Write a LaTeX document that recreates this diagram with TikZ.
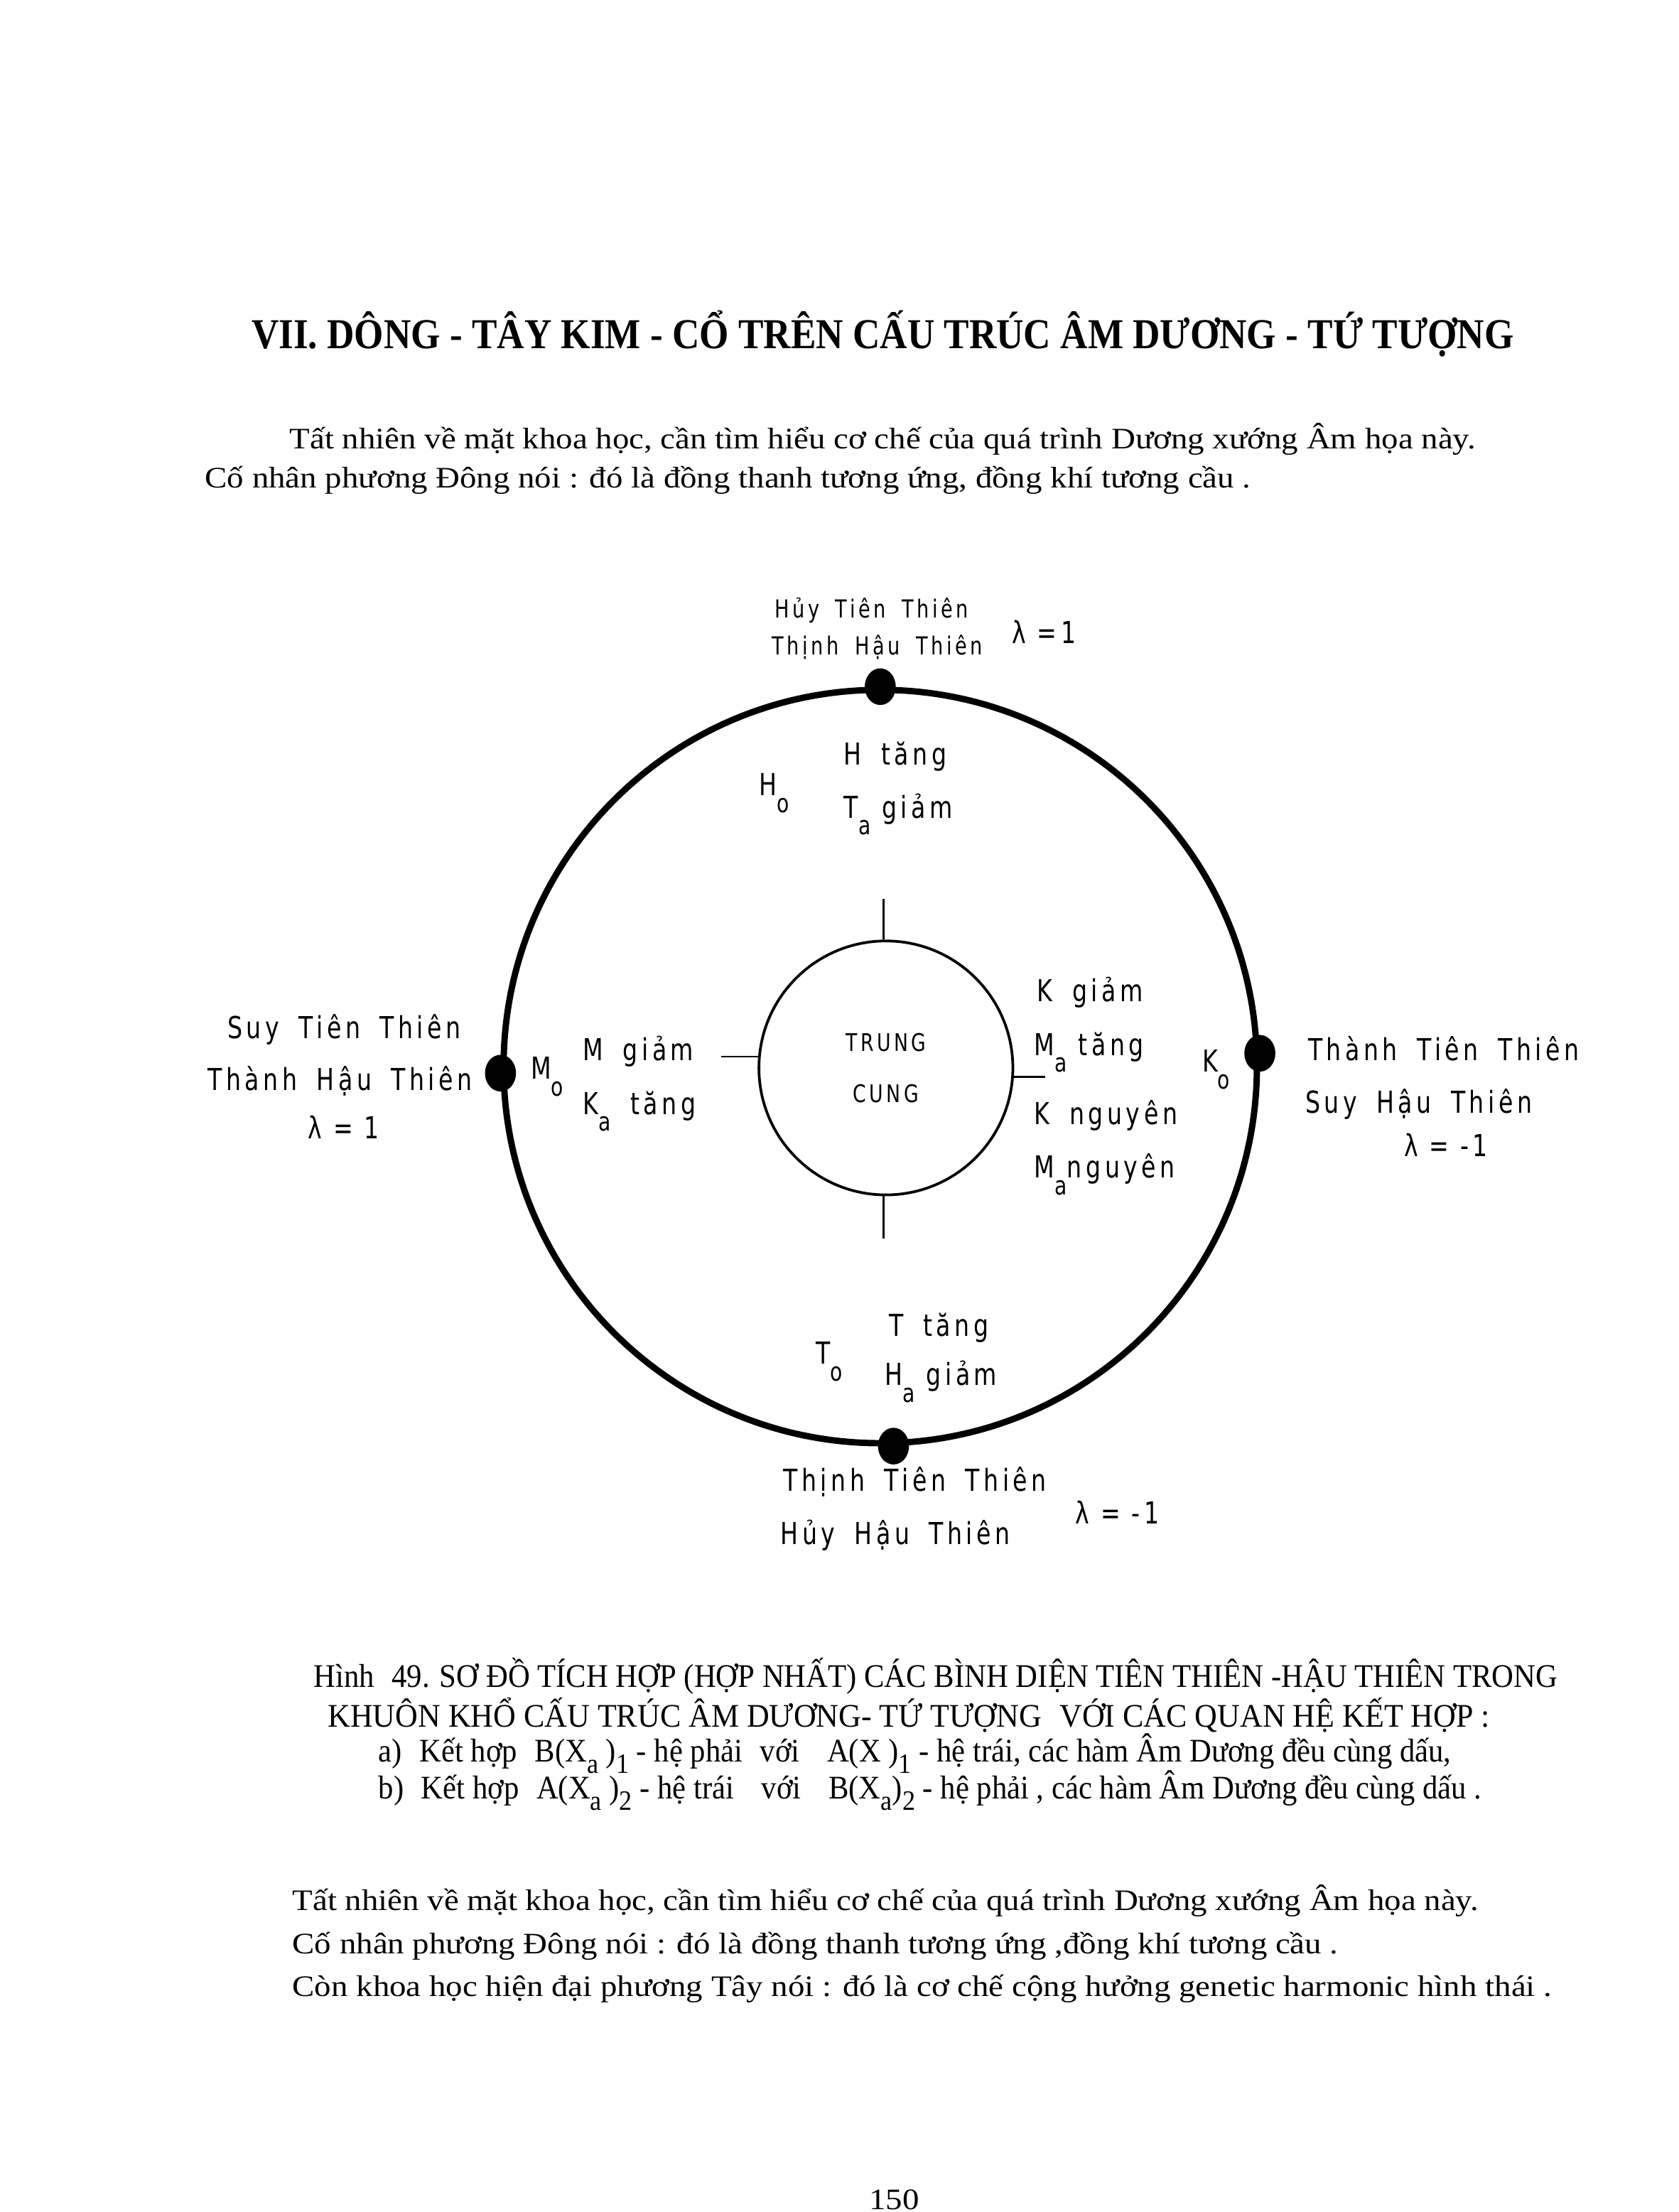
\documentclass[tikz,border=0pt]{standalone}
\usepackage{fontspec}
\setmainfont{Liberation Serif}
\newfontfamily\lblfont[FakeStretch=0.78,LetterSpace=13,WordSpace=1.7]{DejaVu Sans}
\newfontfamily\txtfont[FakeStretch=1.12]{Liberation Serif}
\newfontfamily\capfont[FakeStretch=0.92]{Liberation Serif}
\newfontfamily\headfont[FakeStretch=0.886]{Liberation Serif}
\usetikzlibrary{shapes.geometric}
\newcommand{\lsub}[1]{\raisebox{-0.55em}{\scalebox{0.85}{#1}}}
\newcommand{\csub}[1]{\raisebox{-0.35em}{\scalebox{0.85}{#1}}}
\newcommand{\gap}{\hspace{1.4mm}}
\newcommand{\sgap}{\hspace{1.6mm}}

\begin{document}
\begin{tikzpicture}[x=0.2mm, y=-0.2mm,
  lbl/.style={font=\lblfont\fontsize{12.2}{14}\selectfont, anchor=base west, inner sep=0pt},
  lbls/.style={lbl, font=\lblfont\fontsize{10}{12}\selectfont},
  txt/.style={font=\txtfont\fontsize{12}{14}\selectfont, anchor=base west, inner sep=0pt},
  captxt/.style={font=\capfont\fontsize{13.3}{15}\selectfont, anchor=base west, inner sep=0pt},
  dot/.style={ellipse, fill=black, minimum width=4.4mm, minimum height=5.2mm, inner sep=0pt},
  tick/.style={line width=0.25mm}]
\fill[white] (0,0) rectangle (1190,1568);
\useasboundingbox (0,0) rectangle (1190,1568);

% heading and opening lines
\node[anchor=base west, inner sep=0pt, font=\headfont\bfseries\fontsize{17.2}{20}\selectfont]
  (head) at (178,247) {VII. DÔNG - TÂY KIM - CỔ TRÊN CẤU TRÚC ÂM DƯƠNG - TỨ TƯỢNG};
\node[txt] (top1) at (205,318) {Tất nhiên về mặt khoa học, cần tìm hiểu cơ chế của quá trình Dương xướng Âm họa này.};
\node[txt] (top2) at (145,346) {Cố nhân phương Đông nói : đó là đồng thanh tương ứng, đồng khí tương cầu .};

% rings
\node[circle, draw, line width=0.9mm, minimum size=106.8mm, inner sep=0pt] (ring) at (624,756) {};
\node[circle, draw, line width=0.38mm, minimum size=36mm, inner sep=0pt, align=center,
  font=\lblfont\fontsize{9.8}{20.5}\selectfont] (tc) at (628,757) {TRUNG\\CUNG};
\draw[tick] (tc.91) -- ++(0,-29);
\draw[tick] (tc.269) -- ++(0,30);
\draw[tick] (tc.175) -- ++(-26,0);
\draw[tick] (tc.356) -- ++(22,0);

\node[dot] (pt) at (ring.90) {};
\node[dot] (pb) at (ring.272) {};
\node[dot] (pl) at (ring.181) {};
\node[dot] (pr) at (ring.2) {};

% top
\node[lbls] (t1) at (549,438) {Hủy Tiên Thiên};
\node[lbls] (t2) at (547,464) {Thịnh Hậu Thiên};
\node[lbl] (tl) at (717,456) {λ\sgap=1};
\node[lbl] (t3) at (598,542) {H tăng};
\node[lbl] (t4) at (598,580) {T\lsub{a}\sgap giảm};
\node[lbl] (ho) at (538,564) {H\lsub{o}};

% left
\node[lbl] (l1) at (161,736) {Suy Tiên Thiên};
\node[lbl] (l2) at (147,773) {Thành Hậu Thiên};
\node[lbl] (ll) at (218,807) {λ\sgap=\sgap1};
\node[lbl] (mo) at (376,765) {M\lsub{o}};
\node[lbl] (l3) at (413,752) {M giảm};
\node[lbl] (l4) at (413,790) {K\lsub{a} tăng};

% right
\node[lbl] (r3) at (735,710) {K giảm};
\node[lbl] (r4) at (733,748) {M\lsub{a}\sgap tăng};
\node[lbl] (r5) at (733,797) {K nguyên};
\node[lbl] (r6) at (733,835) {M\lsub{a}nguyên};
\node[lbl] (ko) at (852,760) {K\lsub{o}};
\node[lbl] (r1) at (927,752) {Thành Tiên Thiên};
\node[lbl] (r2) at (925,789) {Suy Hậu Thiên};
\node[lbl] (rl) at (995,820) {λ\sgap=\sgap-1};

% bottom
\node[lbl] (b3) at (630,947) {T tăng};
\node[lbl] (to) at (578,967) {T\lsub{o}};
\node[lbl] (b4) at (627,982) {H\lsub{a}\sgap giảm};
\node[lbl] (b1) at (555,1057) {Thịnh Tiên Thiên};
\node[lbl] (b2) at (553,1095) {Hủy Hậu Thiên};
\node[lbl] (bl) at (762,1080) {λ\sgap=\sgap-1};

% caption
\node[captxt] (c1) at (222,1196) {Hình\gap{} 49. SƠ ĐỒ TÍCH HỢP (HỢP NHẤT) CÁC BÌNH DIỆN TIÊN THIÊN -HẬU THIÊN TRONG};
\node[captxt] (c2) at (232,1224) {\scalebox{1.03}[1]{KHUÔN KHỔ CẤU TRÚC ÂM DƯƠNG- TỨ TƯỢNG\gap{} VỚI CÁC QUAN HỆ KẾT HỢP :}};
\node[captxt] (ca) at (268,1249) {a)\gap{} Kết hợp\gap{} B(X\csub{a} )\csub{1} - hệ phải\gap{} với\gap\gap{} A(X )\csub{1} - hệ trái, các hàm Âm Dương đều cùng dấu,};
\node[captxt] (cb) at (268,1275) {b)\gap{} Kết hợp\gap{} A(X\csub{a} )\csub{2} - hệ trái\gap\gap{} với\gap\gap{} B(X\csub{a})\csub{2} - hệ phải , các hàm Âm Dương đều cùng dấu .};

% closing lines
\node[txt] (e1) at (207,1354) {Tất nhiên về mặt khoa học, cần tìm hiểu cơ chế của quá trình Dương xướng Âm họa này.};
\node[txt] (e2) at (207,1385) {Cố nhân phương Đông nói : đó là đồng thanh tương ứng ,đồng khí tương cầu .};
\node[txt] (e3) at (207,1415) {Còn khoa học hiện đại phương Tây nói : đó là cơ chế cộng hưởng genetic harmonic hình thái .};

\node[txt, anchor=base] (pg) at (634,1566) {150};
\end{tikzpicture}
\end{document}
